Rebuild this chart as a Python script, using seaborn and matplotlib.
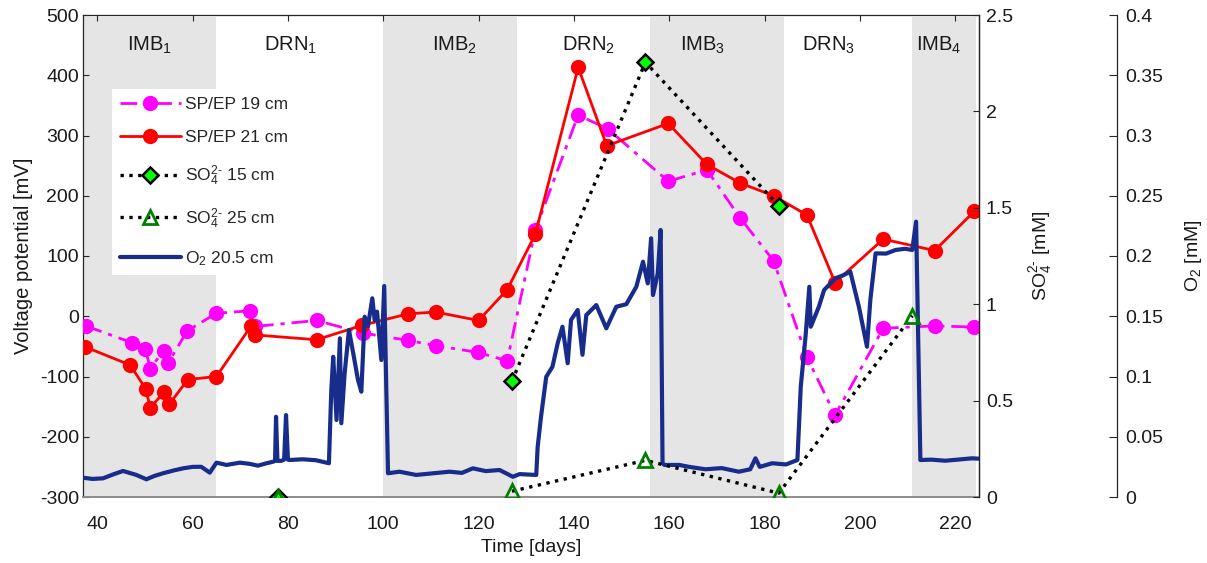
import numpy as np
import pandas as pd
import matplotlib
matplotlib.use("Agg")
import matplotlib.pyplot as plt
import seaborn as sns

# ---------------- data ----------------
sp19_days = [37.6, 47.3, 50.1, 51.1, 53.9, 54.9, 58.9, 65.0, 72.0, 73.0, 86.0, 95.8,
             105.2, 111.1, 119.9, 126.0, 131.9, 140.9, 147.1, 159.8, 167.9, 174.9,
             181.9, 188.9, 194.8, 204.9, 215.8, 224.0]
sp19_mv = [-16, -44, -54, -87, -57, -77, -24, 5, 9, -17, -7, -28,
           -40, -49, -60, -74, 143, 334, 311, 224, 243, 163,
           92, -68, -164, -20, -16, -18]

sp21_days = [37.5, 46.9, 50.2, 51.1, 54.1, 55.1, 59.0, 65.0, 72.2, 73.1, 86.0, 95.6,
             105.2, 111.0, 120.0, 126.0, 131.9, 140.9, 146.9, 159.8, 167.9, 174.9,
             181.9, 188.9, 194.8, 204.9, 215.7, 224.0]
sp21_mv = [-51, -81, -121, -152, -125, -146, -105, -100, -17, -31, -39, -15,
           4, 7, -7, 44, 136, 413, 283, 320, 252, 221,
           200, 168, 56, 128, 109, 174]

so4_15_days = [78, 127, 155, 183]
so4_15_mM = [0.0, 0.60, 2.255, 1.51]

so4_25_days = [78, 127, 155, 183, 211]
so4_25_mM = [0.0, 0.03, 0.19, 0.02, 0.94]

o2_days = [37.0, 39.0, 41.2, 43.5, 45.4, 48.2, 50.3, 52.0, 53.8, 56.0, 58.0, 60.0, 61.8, 63.6,
           65.0, 67.1, 69.9, 72.0, 73.7, 75.5, 76.9, 77.3, 77.5, 77.8, 78.6, 79.2, 79.6,
           80.0, 80.3, 83.1, 85.9, 88.6, 89.1, 89.5, 90.2, 90.9, 91.2, 91.9, 92.8, 93.7,
           94.7, 95.4, 96.1, 96.8, 97.7, 98.2, 98.7, 99.6, 100.2, 101.0, 103.4, 106.9,
           110.0, 113.9, 116.5, 118.8, 121.5, 124.4, 127.2, 128.6, 132.1, 132.4, 133.1,
           134.2, 135.5, 136.6, 137.6, 138.7, 139.4, 140.8, 141.8, 142.6, 144.7, 146.8,
           148.9, 151.0, 153.1, 154.5, 155.5, 156.2, 156.6, 157.6, 158.2, 158.6, 159.0,
           162.1, 164.2, 167.6, 171.0, 174.6, 177.0, 178.1, 179.0, 181.6, 184.5, 186.9,
           187.6, 188.6, 189.4, 189.7, 191.4, 192.5, 194.9, 196.5, 198.0, 199.8, 201.5,
           202.2, 203.3, 205.5, 207.5, 209.5, 211.0, 211.8, 212.7, 215.0, 217.9, 220.5,
           223.5, 225.0]
o2_mM = [0.0160, 0.0150, 0.0155, 0.0190, 0.0216, 0.0183, 0.0147, 0.0175, 0.0197, 0.0220,
         0.0238, 0.0250, 0.0251, 0.0202,
         0.0285, 0.0266, 0.0285, 0.0275, 0.0260, 0.0280, 0.0293, 0.0300, 0.0666, 0.0300,
         0.0300, 0.0310, 0.0680,
         0.0310, 0.0307, 0.0313, 0.0305, 0.0280, 0.0888, 0.1164, 0.0639, 0.1317, 0.0612,
         0.1027, 0.1386, 0.1193,
         0.0971, 0.0874, 0.1496, 0.1420, 0.1649, 0.1469, 0.1538, 0.1137, 0.1751, 0.0197,
         0.0210, 0.0183,
         0.0195, 0.0210, 0.0200, 0.0238, 0.0215, 0.0224, 0.0168, 0.0190, 0.0183, 0.0417,
         0.0666,
         0.0998, 0.1081, 0.1276, 0.1413, 0.1110, 0.1469, 0.1552, 0.1180, 0.1510, 0.1593,
         0.1400,
         0.1579, 0.1600, 0.1745, 0.1953, 0.1773, 0.2147, 0.1676, 0.1856, 0.2216, 0.0280,
         0.0266,
         0.0266, 0.0250, 0.0230, 0.0240, 0.0210, 0.0230, 0.0321, 0.0250, 0.0280, 0.0270,
         0.0307,
         0.0915, 0.1330, 0.1745, 0.1413, 0.1579, 0.1718, 0.1815, 0.1840, 0.1870, 0.1579,
         0.1247,
         0.1635, 0.2022, 0.2020, 0.2050, 0.2060, 0.2050, 0.2285, 0.0307, 0.0310, 0.0301,
         0.0310,
         0.0321, 0.0318]

phase_starts = [37, 65, 100, 128, 156, 184, 211]
phase_ends = [65, 100, 128, 156, 184, 211, 224.3]
phase_labels = ["IMB$_1$", "DRN$_1$", "IMB$_2$", "DRN$_2$", "IMB$_3$", "DRN$_3$", "IMB$_4$"]
phase_label_x = [51, 80.5, 115, 143, 167, 193.5, 216.5]
phase_shaded = [True, False, True, False, True, False, True]

x_ticks = [40, 60, 80, 100, 120, 140, 160, 180, 200, 220]
mv_ticks = [-300, -200, -100, 0, 100, 200, 300, 400, 500]
mv_ticklabels = ["-300", "-200", "-100", "0", "100", "200", "300", "400", "500"]
so4_ticks = [0, 0.5, 1, 1.5, 2, 2.5]
so4_ticklabels = ["0", "0.5", "1", "1.5", "2", "2.5"]
o2_ticks = [0, 0.05, 0.1, 0.15, 0.2, 0.25, 0.3, 0.35, 0.4]
o2_ticklabels = ["0", "0.05", "0.1", "0.15", "0.2", "0.25", "0.3", "0.35", "0.4"]

SO4 = "SO$_4^{2\u2010}$"

# ---------------- style ----------------
sns.set_theme(style="white")
plt.rcParams["font.family"] = ["Liberation Sans", "DejaVu Sans"]
plt.rcParams["mathtext.fontset"] = "custom"
plt.rcParams["mathtext.rm"] = "Liberation Sans"
plt.rcParams["mathtext.it"] = "Liberation Sans"
plt.rcParams["mathtext.default"] = "regular"
plt.rcParams["xtick.direction"] = "in"
plt.rcParams["ytick.direction"] = "in"

FS = 14
AXC = "#262626"
TXT = "#1a1a1a"

fig = plt.figure(figsize=(12.07, 5.63), dpi=100)
ax = fig.add_axes([83 / 1207, 66 / 563, 896 / 1207, 482 / 563])
ax3 = ax.twinx()
ax2 = ax.twinx()
ax.set_zorder(1)
ax3.set_zorder(2)
ax2.set_zorder(3)
ax3.patch.set_visible(False)
ax2.patch.set_visible(False)
ax.set_facecolor("white")

# shaded phases
for s, e, sh in zip(phase_starts, phase_ends, phase_shaded):
    if sh:
        ax.axvspan(s, e, ymin=0, ymax=0.995, color="#E5E5E5", lw=0, zorder=0)
for lab, lx in zip(phase_labels, phase_label_x):
    ax.text(lx, 450, lab, ha="center", va="center", fontsize=14.5, color=TXT, zorder=1)

# SP/EP
df19 = pd.DataFrame({"day": sp19_days, "mv": sp19_mv})
df21 = pd.DataFrame({"day": sp21_days, "mv": sp21_mv})
sns.lineplot(data=df19, x="day", y="mv", ax=ax, color="#FF00FF", lw=2.0,
             marker="o", markersize=11, markeredgewidth=0, sort=False, estimator=None,
             label="SP/EP 19 cm", legend=False, zorder=3)
ax.lines[-1].set_dashes([6, 2.5, 1.5, 2.5])
sns.lineplot(data=df21, x="day", y="mv", ax=ax, color="#FF0000", linestyle="-", lw=2.0,
             marker="o", markersize=11, markeredgewidth=0, sort=False, estimator=None,
             label="SP/EP 21 cm", legend=False, zorder=4)

# O2
dfo2 = pd.DataFrame({"day": o2_days, "o2": o2_mM})
sns.lineplot(data=dfo2, x="day", y="o2", ax=ax3, color="#182C8C", lw=3.0, sort=False,
             estimator=None, label="O$_2$ 20.5 cm", legend=False)

# SO4
df15 = pd.DataFrame({"day": so4_15_days, "s": so4_15_mM})
df25 = pd.DataFrame({"day": so4_25_days, "s": so4_25_mM})
# isolated first sample (day 78) has no connecting line
ax2.plot(df15["day"][:1], df15["s"][:1], ls="none", marker="D", markersize=8,
         markerfacecolor="#00FF00", markeredgecolor="black", markeredgewidth=1.8, zorder=4)
ax2.plot(df25["day"][:1], df25["s"][:1], ls="none", marker="^", markersize=10,
         markerfacecolor="none", markeredgecolor="#008000", markeredgewidth=2, zorder=5)
sns.lineplot(data=df25.iloc[1:], x="day", y="s", ax=ax2, color="black", linestyle=":", lw=2.4,
             marker="^", markersize=10, markerfacecolor="none", markeredgecolor="#008000",
             markeredgewidth=2, sort=False, estimator=None, label=SO4 + " 25 cm",
             legend=False, zorder=5)
sns.lineplot(data=df15.iloc[1:], x="day", y="s", ax=ax2, color="black", linestyle=":", lw=2.4,
             marker="D", markersize=8.5, markerfacecolor="#00FF00", markeredgecolor="black",
             markeredgewidth=1.8, sort=False, estimator=None, label=SO4 + " 15 cm",
             legend=False, zorder=6)

# axes limits / ticks
ax.set_xlim(37, 225)
ax.set_ylim(-300, 500)
ax2.set_ylim(0, 2.5)
ax3.set_ylim(0, 0.4)
ax.set_xticks(x_ticks)
ax.set_yticks(mv_ticks)
ax.set_yticklabels(mv_ticklabels)
ax2.set_yticks(so4_ticks)
ax2.set_yticklabels(so4_ticklabels)
ax3.set_yticks(o2_ticks)
ax3.set_yticklabels(o2_ticklabels)

ax.tick_params(axis="both", labelsize=FS, colors=AXC, length=4, width=0.8,
               top=True, right=False, labelcolor=TXT, pad=3)
ax.tick_params(axis="x", pad=14)
ax2.tick_params(axis="y", labelsize=FS, colors=AXC, length=4, width=0.8, labelcolor=TXT, pad=5)
ax3.tick_params(axis="y", labelsize=FS, colors=AXC, length=6, width=0.8, labelcolor=TXT,
                direction="in", pad=6)

for sp in ax.spines.values():
    sp.set_color(AXC)
    sp.set_linewidth(0.9)
ax.spines["bottom"].set_color("#8c8c8c")
ax.spines["bottom"].set_linewidth(1.4)
for k in ["left", "top", "bottom"]:
    ax2.spines[k].set_visible(False)
    ax3.spines[k].set_visible(False)
ax2.spines["right"].set_color(AXC)
ax2.spines["right"].set_linewidth(0.9)
ax3.spines["right"].set_position(("axes", (1117 - 83) / 896))
ax3.spines["right"].set_color(AXC)
ax3.spines["right"].set_linewidth(0.9)
ax3.xaxis.set_visible(False)

ax.set_xlabel("Time [days]", fontsize=14, color=TXT, labelpad=4)
ax.set_ylabel("Voltage potential [mV]", fontsize=14.5, color=TXT, labelpad=5)
ax2.set_ylabel(SO4 + " [mM]", fontsize=14, color=TXT, labelpad=10)
ax3.set_ylabel("O$_2$ [mM]", fontsize=14, color=TXT, labelpad=14)

# legend
h1, l1 = ax.get_legend_handles_labels()
h3, l3 = ax3.get_legend_handles_labels()
h2, l2 = ax2.get_legend_handles_labels()
hd = dict(zip(l1 + l2 + l3, h1 + h2 + h3))
order = ["SP/EP 19 cm", "SP/EP 21 cm", SO4 + " 15 cm", SO4 + " 25 cm", "O$_2$ 20.5 cm"]
leg = ax2.legend([hd[o] for o in order], order, loc="upper left",
                 bbox_to_anchor=((112 - 83) / 896, (497 - 89) / 482),
                 fontsize=12.5, frameon=True, facecolor="white", edgecolor="none",
                 framealpha=1, fancybox=False, handlelength=3.5, labelspacing=1.05,
                 borderpad=0.45, handletextpad=0.25, borderaxespad=0)
leg.set_zorder(20)

fig.savefig("out.png", dpi=100)
